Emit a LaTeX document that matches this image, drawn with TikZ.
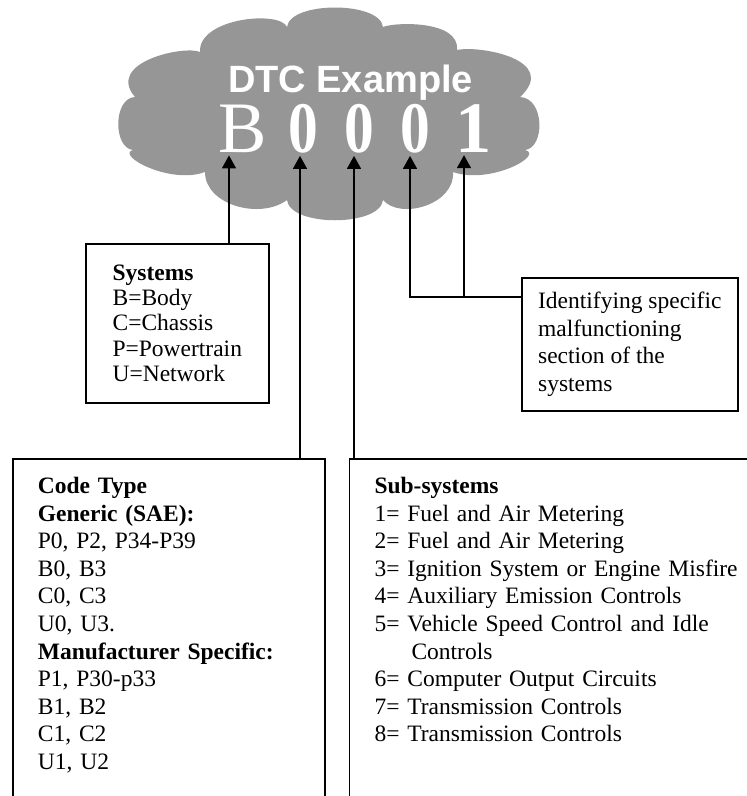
\documentclass[tikz,border=0pt]{standalone}
\usepackage{fontspec}
\setmainfont{Liberation Serif}
\newfontfamily\titlefont{Liberation Sans}
\usepackage{xcolor}
\usepackage{graphicx}
\usetikzlibrary{arrows.meta,positioning}
\definecolor{cloudgray}{RGB}{150,150,150}
\newcommand{\boxfont}{\fontsize{23.5}{27.6}\selectfont}
\newcommand{\narrowzero}{\scalebox{0.82}[1]{\textbf{0}}}

\begin{document}
\begin{tikzpicture}[
    x=1pt, y=-1pt,
    box/.style={rectangle, draw, line width=1.6pt, align=left, font=\boxfont},
    listbox/.style={rectangle, align=left, font=\boxfont, inner xsep=25pt, inner ysep=18pt, anchor=north west},
    digit/.style={font=\fontsize{72.5}{80}\selectfont, text=white, inner sep=0pt, anchor=base},
    arrow/.style={-{Triangle[length=13pt,width=14pt]}, line width=1.6pt},
    frame/.style={line width=1.6pt}
]
    \useasboundingbox (0,0) rectangle (747,796);

    % Cloud
    \fill[cloudgray] (200,52)
        .. controls (198,18) and (280,10) .. (287,27)
        .. controls (290,1) and (380,1) .. (383,27)
        .. controls (395,22) and (460,20) .. (457,50)
        .. controls (480,45) and (560,60) .. (520,97)
        .. controls (545,98) and (545,148) .. (525,150)
        .. controls (545,155) and (490,185) .. (453,172)
        .. controls (455,205) and (400,220) .. (383,200)
        .. controls (380,227) and (290,227) .. (287,200)
        .. controls (260,220) and (205,205) .. (205,172)
        .. controls (170,185) and (115,155) .. (133,150)
        .. controls (113,148) and (113,98) .. (135,97)
        .. controls (105,62) and (185,45) .. (200,52) -- cycle;

    % Title and code
    \node[font=\titlefont\bfseries\fontsize{38}{40}\selectfont, text=white, inner sep=0pt, anchor=base] (title) at (350.5,92) {DTC Example};
    \node[digit] (digB) at (242.5,152) {B};
    \node[digit] (dig0a) at (303.3,152) {\narrowzero};
    \node[digit] (dig0b) at (359,152) {\narrowzero};
    \node[digit] (dig0c) at (415,152) {\narrowzero};
    \node[digit] (dig1) at (474,152) {\textbf{1}};

    \coordinate (tipB) at ([xshift=-13.5pt,yshift=-3pt]digB.south);
    \coordinate (tip0a) at ([xshift=-3.3pt,yshift=-3pt]dig0a.south);
    \coordinate (tip0b) at ([xshift=-5pt,yshift=-3pt]dig0b.south);
    \coordinate (tip0c) at ([xshift=-5pt,yshift=-3pt]dig0c.south);
    \coordinate (tip1) at ([xshift=-10pt,yshift=-3pt]dig1.south);

    % Boxes
    \node[box, minimum width=183pt, minimum height=159pt, anchor=north west, font=\fontsize{23.5}{25.3}\selectfont] (systems) at (85,243) {\textbf{Systems}\\B=Body\\C=Chassis\\P=Powertrain\\U=Network};
    \node[box, minimum width=216pt, minimum height=133pt, anchor=north west] (ident) at (521,277) {Identifying specific\\malfunctioning\\section of the\\systems};

    \coordinate (pagebottom) at (0,800);
    \node[listbox, text width=262pt] (codetype) at (12.7,459) {\textbf{Code Type}\\\textbf{Generic (SAE):}\\P0, P2, P34-P39\\B0, B3\\C0, C3\\U0, U3.\\\textbf{Manufacturer Specific:}\\P1, P30-p33\\B1, B2\\C1, C2\\U1, U2};
    \node[listbox, text width=380pt] (subsys) at (349.3,459) {\textbf{Sub-systems}\\1= Fuel and Air Metering\\2= Fuel and Air Metering\\3= Ignition System or Engine Misfire\\4= Auxiliary Emission Controls\\5= Vehicle Speed Control and Idle\\\hspace*{37pt}Controls\\6= Computer Output Circuits\\7= Transmission Controls\\8= Transmission Controls};
    \draw[frame] (codetype.north west |- pagebottom) -- (codetype.north west) -- (codetype.north east) -- (codetype.north east |- pagebottom);
    \draw[frame] (subsys.north west |- pagebottom) -- (subsys.north west) -- (subsys.north east);

    % Connectors
    \draw[arrow] (systems.north -| tipB) -- (tipB);
    \draw[arrow] (codetype.north -| tip0a) -- (tip0a);
    \draw[arrow] (subsys.north -| tip0b) -- (tip0b);
    \coordinate (identjoin) at ([yshift=-20pt]ident.north west);
    \draw[arrow] (identjoin) -| (tip0c);
    \draw[arrow] (identjoin -| tip1) -- (tip1);
\end{tikzpicture}
\end{document}
